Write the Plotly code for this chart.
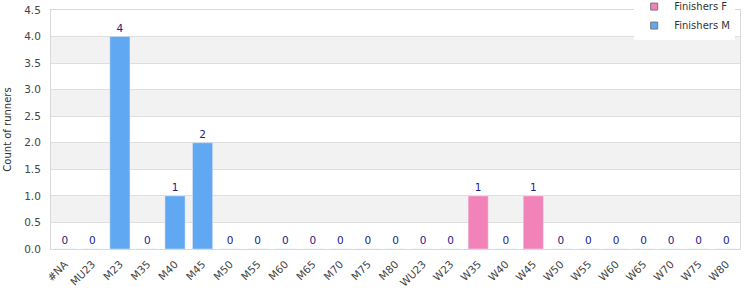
import plotly.graph_objects as go

categories = ["#NA", "MU23", "M23", "M35", "M40", "M45", "M50", "M55", "M60", "M65",
              "M70", "M75", "M80", "WU23", "W23", "W35", "W40", "W45", "W50", "W55",
              "W60", "W65", "W70", "W75", "W80"]
finishers_m = [0, 0, 4, 0, 1, 2, 0, 0, 0, 0, 0, 0, 0, None, None, None, None, None, None, None, None, None, None, None, None]
finishers_f = [None, None, None, None, None, None, None, None, None, None, None, None, None, 0, 0, 1, 0, 1, 0, 0, 0, 0, 0, 0, 0]
y_ticks = [0.0, 0.5, 1.0, 1.5, 2.0, 2.5, 3.0, 3.5, 4.0, 4.5]

COL_M = "#60a8f2"
COL_F = "#f283b8"
LABEL = "#1c1c8e"
FONT = "DejaVu Sans"

fig = go.Figure()
fig.add_trace(go.Bar(
    x=categories, y=finishers_m, marker=dict(color=COL_M),
    text=[("" if v is None else str(v)) for v in finishers_m],
    textposition="outside", textfont=dict(color=LABEL, size=10.5, family=FONT),
    cliponaxis=False, showlegend=False, name="Finishers M"))
fig.add_trace(go.Bar(
    x=categories, y=finishers_f, marker=dict(color=COL_F),
    text=[("" if v is None else str(v)) for v in finishers_f],
    textposition="outside", textfont=dict(color=LABEL, size=10.5, family=FONT),
    cliponaxis=False, showlegend=False, name="Finishers F"))

# legend-only entries
for name, col in [("Finishers F", COL_F), ("Finishers M", COL_M)]:
    fig.add_trace(go.Scatter(
        x=[None], y=[None], mode="markers", name=name,
        marker=dict(symbol="square", size=7, color=col, line=dict(color="#777", width=1))))

# alternating bands
shapes = []
for i in range(len(y_ticks) - 1):
    if i % 2 == 1:
        shapes.append(dict(type="rect", xref="paper", x0=0, x1=1, yref="y",
                           y0=y_ticks[i], y1=y_ticks[i + 1], fillcolor="#f2f2f2",
                           line=dict(width=0), layer="below"))

fig.update_layout(
    width=750, height=300,
    margin=dict(l=51, r=10, t=10, b=51, autoexpand=False),
    paper_bgcolor="white", plot_bgcolor="white",
    barmode="overlay", bargap=0.27,
    font=dict(family=FONT, size=10.5, color="#444"),
    shapes=shapes,
    legend=dict(x=0.993, xanchor="right", y=1.075, yanchor="top",
                bgcolor="white", font=dict(size=10, color="#333"),
                itemwidth=30, tracegroupgap=0, traceorder="normal"),
    xaxis=dict(tickangle=-45, showgrid=False, showline=True, linecolor="#d9d9d9",
               mirror=True, ticks="outside", ticklen=4, tickcolor="rgba(0,0,0,0)",
               tickfont=dict(size=10.5, color="#444")),
    yaxis=dict(range=[0, 4.5], tickvals=y_ticks, tickformat=".1f",
               showgrid=True, gridcolor="#dedede", zeroline=False,
               showline=True, linecolor="#d9d9d9", mirror=True,
               ticks="outside", ticklen=7, tickcolor="rgba(0,0,0,0)",
               title=dict(text="Count of runners", font=dict(size=10, color="#333"), standoff=10),
               tickfont=dict(size=10.5, color="#444")),
)

fig.write_html("out.html")
